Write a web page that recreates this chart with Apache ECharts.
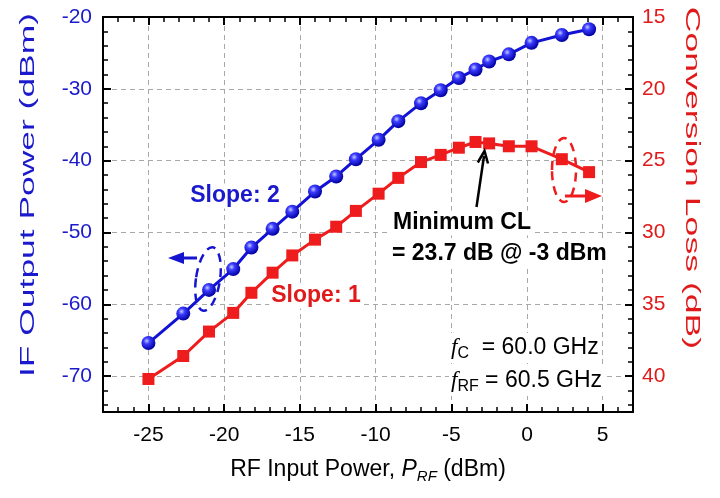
<!DOCTYPE html>
<html><head><meta charset="utf-8">
<script src="https://cdn.jsdelivr.net/npm/echarts@6/dist/echarts.min.js"></script>
<style>html,body{margin:0;padding:0;background:#fff}#c{width:720px;height:498px}</style>
</head><body><div id="c"></div>
<script>
// RF input power (dBm)
const rfInput = [-25.0,-22.7,-21.0,-19.4,-18.2,-16.8,-15.5,-14.0,-12.6,-11.3,-9.8,-8.5,-7.0,-5.7,-4.5,-3.4,-2.5,-1.2,0.3,2.3,4.1];
// IF output power (dBm)
const ifOutput = [-65.4,-61.3,-58.0,-55.1,-52.1,-49.5,-47.1,-44.3,-42.2,-39.8,-37.1,-34.5,-32.0,-30.2,-28.5,-27.3,-26.2,-25.2,-23.6,-22.5,-21.7];
// Conversion loss (dB)
const convLoss = [40.2,38.6,36.9,35.6,34.2,32.8,31.6,30.5,29.6,28.5,27.3,26.2,25.1,24.6,24.1,23.7,23.8,24.0,24.0,24.9,25.8];

const xTicks = [-25,-20,-15,-10,-5,0,5];
const yLeftTicks = [-70,-60,-50,-40,-30,-20];
const yRightTicks = [15,20,25,30,35,40];

const FONT = '"Liberation Sans", Arial, sans-serif';
const BLUE = '#1a1acc';
const RED = '#e01a1a';

const chart = echarts.init(document.getElementById('c'));

const axisLine = {show:true, onZero:false, lineStyle:{color:'#000', width:2}};
const tickStyle = {show:true, inside:true, length:8, lineStyle:{color:'#000', width:2}};
const minorStyle = {show:true, splitNumber:5, length:5, lineStyle:{color:'#000', width:1.5}};
const dash = {show:true, lineStyle:{color:'#a8a8a8', width:1, type:[5,4]}};

const blueSphere = {
  type:'radial', x:0.38, y:0.35, r:0.65,
  colorStops:[{offset:0,color:'#c0caff'},{offset:0.35,color:'#3a3aff'},{offset:1,color:'#0000a0'}]
};

function txt(x, y, text, fill, font, align, extra) {
  return Object.assign({type:'text', x:x, y:y, z:10,
    style:Object.assign({text:text, fill:fill, font:font, align:align, verticalAlign:'middle',
      textAlign:align, textVerticalAlign:'middle'}, extra || {})});
}
const bgBox = {backgroundColor:'#fff', padding:[1,2,1,2]};

chart.setOption({
  animation:false,
  backgroundColor:'#fff',
  grid:{left:103, right:87, top:17, bottom:86, containLabel:false},
  xAxis:[{
    type:'value', min:-28, max:7, splitNumber:7, minInterval:5, maxInterval:5,
    axisLine:axisLine, axisTick:tickStyle, minorTick:minorStyle,
    axisLabel:{margin:13, fontSize:21, color:'#000', fontFamily:FONT,
      formatter:v => xTicks.includes(v) ? String(v) : ''},
    splitLine:dash,
    name:'RF Input Power, {i|P}{sub|RF} (dBm)', nameLocation:'middle', nameGap:44,
    nameTextStyle:{fontSize:23, color:'#000', fontFamily:FONT, lineHeight:28,
      rich:{i:{fontSize:23, fontStyle:'italic', fontFamily:FONT, color:'#000', lineHeight:28},
            sub:{fontSize:15, fontStyle:'italic', fontFamily:FONT, color:'#000', verticalAlign:'bottom', lineHeight:15}}}
  },{
    type:'value', position:'top', min:-28, max:7, splitNumber:7, minInterval:5, maxInterval:5,
    axisLine:axisLine, axisTick:tickStyle, minorTick:minorStyle,
    axisLabel:{show:false}, splitLine:{show:false}
  }],
  yAxis:[{
    type:'value', min:-75, max:-20, splitNumber:5, minInterval:10, maxInterval:10,
    axisLine:axisLine, axisTick:tickStyle, minorTick:minorStyle,
    axisLabel:{margin:11, fontSize:21, color:BLUE, fontFamily:FONT,
      formatter:v => yLeftTicks.includes(v) ? String(v) : ''},
    splitLine:dash
  },{
    type:'value', position:'right', min:15, max:42.5, interval:5, inverse:true,
    axisLine:axisLine, axisTick:tickStyle, minorTick:minorStyle,
    axisLabel:{margin:9, fontSize:21, color:RED, fontFamily:FONT,
      formatter:v => yRightTicks.includes(v) ? String(v) : ''},
    splitLine:{show:false}
  }],
  series:[{
    name:'IF Output Power', type:'line', xAxisIndex:0, yAxisIndex:0,
    data: rfInput.map((x,i)=>[x, ifOutput[i]]),
    symbol:'circle', symbolSize:14, z:3,
    lineStyle:{color:'#1212d6', width:3},
    itemStyle:{color:blueSphere, borderWidth:0}
  },{
    name:'Conversion Loss', type:'line', xAxisIndex:0, yAxisIndex:1,
    data: rfInput.map((x,i)=>[x, convLoss[i]]),
    symbol:'rect', symbolSize:12, z:3,
    lineStyle:{color:'#ee1c1c', width:3},
    itemStyle:{color:'#ee1c1c', borderWidth:0}
  }],
  graphic:[
    {type:'text', x:28, y:195, rotation:Math.PI/2, scaleX:1.77,
     style:{text:'IF Output Power (dBm)', fill:BLUE, font:'20px '+FONT, align:'center', verticalAlign:'middle', textAlign:'center', textVerticalAlign:'middle'}},
    {type:'text', x:692, y:178, rotation:-Math.PI/2, scaleX:1.78,
     style:{text:'Conversion Loss (dB)', fill:RED, font:'20px '+FONT, align:'center', verticalAlign:'middle', textAlign:'center', textVerticalAlign:'middle'}},
    txt(235, 196, 'Slope: 2', BLUE, 'bold 23px '+FONT, 'center', bgBox),
    txt(316, 296, 'Slope: 1', RED, 'bold 23px '+FONT, 'center', bgBox),
    txt(391, 223, 'Minimum CL', '#000', 'bold 23px '+FONT, 'left', bgBox),
    txt(390, 254, '= 23.7 dB @ -3 dBm', '#000', 'bold 23px '+FONT, 'left', bgBox),
    txt(449, 348, '{f|f}{s|C}  = 60.0 GHz', '#000', '23px '+FONT, 'left', Object.assign({
       rich:{f:{fontSize:23, fontStyle:'italic', fontFamily:'"Liberation Serif", serif', fill:'#000', lineHeight:28},
             s:{fontSize:16, fontFamily:FONT, fill:'#000', verticalAlign:'bottom', lineHeight:16}}}, bgBox)),
    txt(449, 381, '{f|f}{s|RF} = 60.5 GHz', '#000', '23px '+FONT, 'left', Object.assign({
       rich:{f:{fontSize:23, fontStyle:'italic', fontFamily:'"Liberation Serif", serif', fill:'#000', lineHeight:28},
             s:{fontSize:16, fontFamily:FONT, fill:'#000', verticalAlign:'bottom', lineHeight:16}}}, bgBox)),
    // black arrow to minimum
    {type:'polyline', z:10, shape:{points:[[476.5,207],[484,156]]}, style:{stroke:'#000', lineWidth:2.5, fill:null}},
    {type:'polyline', z:10, shape:{points:[[477.8,162.5],[484.5,151],[488,163.5]]}, style:{stroke:'#000', lineWidth:2.5, fill:null}},
    // blue dashed ellipse + arrow
    {type:'ellipse', z:10, x:208, y:279, rotation:-0.15, shape:{cx:0, cy:0, rx:12, ry:32},
     style:{fill:null, stroke:'#1515d0', lineWidth:2.5, lineDash:[9,6]}},
    {type:'polyline', z:10, shape:{points:[[181,258],[197,258]]}, style:{stroke:'#1515d0', lineWidth:3, fill:null}},
    {type:'polygon', z:10, shape:{points:[[168,258],[184,252],[184,264]]}, style:{fill:'#1515d0'}},
    // red dashed ellipse + arrow
    {type:'ellipse', z:10, x:564, y:170, shape:{cx:0, cy:0, rx:12, ry:32},
     style:{fill:null, stroke:'#ee1c1c', lineWidth:2.5, lineDash:[9,6]}},
    {type:'polyline', z:10, shape:{points:[[565,196],[588,196]]}, style:{stroke:'#ee1c1c', lineWidth:3, fill:null}},
    {type:'polygon', z:10, shape:{points:[[602,196],[585,189],[585,203]]}, style:{fill:'#ee1c1c'}}
  ]
});
</script>
</body></html>
